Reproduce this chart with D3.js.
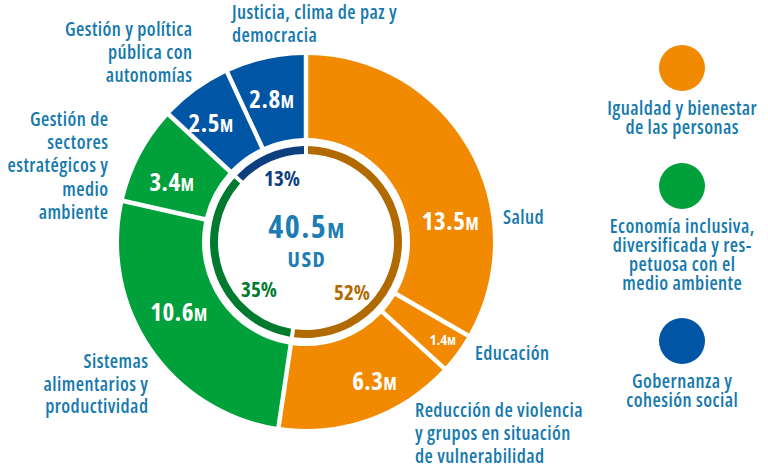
<!DOCTYPE html>
<html>
<head>
<meta charset="utf-8">
<script src="https://cdn.jsdelivr.net/npm/d3@7"></script>
<style>
  html, body { margin: 0; padding: 0; background: #ffffff; }
  svg { display: block; }
  text { font-family: "Open Sans", "Noto Sans", sans-serif; font-stretch: 75%; }
</style>
</head>
<body>
<svg id="chart" width="768" height="472"></svg>
<script>
// ---- Data ----
const categories = ["Salud", "Educación", "Reducción de violencia y grupos en situación de vulnerabilidad",
  "Sistemas alimentarios y productividad", "Gestión de sectores estratégicos y medio ambiente",
  "Gestión y política pública con autonomías", "Justicia, clima de paz y democracia"];
const values = [13.5, 1.4, 6.3, 10.6, 3.4, 2.5, 2.8];
const groupOf = [0, 0, 0, 1, 1, 2, 2];
const groups = ["Igualdad y bienestar de las personas",
  "Economía inclusiva, diversificada y respetuosa con el medio ambiente",
  "Gobernanza y cohesión social"];
const groupPercents = ["52%", "35%", "13%"];
const totalLabel = "40.5";
const unitLabel = "USD";

// label line breaks (text only)
const categoryLines = [
  ["Salud"], ["Educación"],
  ["Reducción de violencia", "y grupos en situación", "de vulnerabilidad"],
  ["Sistemas", "alimentarios y", "productividad"],
  ["Gestión de", "sectores", "estratégicos y", "medio", "ambiente"],
  ["Gestión y política", "pública con", "autonomías"],
  ["Justicia, clima de paz y", "democracia"]
];
const groupLines = [
  ["Igualdad y bienestar", "de las personas"],
  ["Economía inclusiva,", "diversificada y res-", "petuosa con el", "medio ambiente"],
  ["Gobernanza y", "cohesión social"]
];

// ---- Layout / style (not data) ----
const W = 768, H = 472;
const cx = 306, cy = 242;
const R_OUT = 187, R_IN = 104, R_RING_OUT = 96, R_RING_IN = 88;
const groupColors = ["#F18A00", "#00A13A", "#0055A5"];
const ringColors = ["#B06A00", "#007A2F", "#0B3F7E"];
const textColor = "#1579AD";
const LS = 0.45; // letter spacing for labels
// value label placement: [fraction along segment, radius]
const valueLabelPos = [[0.68, 146], [0.45, 168], [0.38, 155], [0.56, 145], [0.38, 147], [0.38, 152], [0.46, 147]];
const valueLabelSize = [[25, 17], [15, 11], [25, 17], [25, 17], [25, 17], [25, 17], [25, 17]];
// category label placement: [x, y of first baseline, anchor, line height]
const catLabelPos = [[503, 224, "start", 23], [475, 360, "start", 23], [415, 417, "start", 23],
  [148, 368, "end", 22.5], [108, 126, "end", 23.2], [192, 36, "end", 23], [232, 19, "start", 23]];
const pctLabelPos = [[352, 300], [259, 297], [282, 186]];
const legendX = 682, legendY = [68, 186, 341], legendR = 23, legendTextY = [115, 233, 388], legendLH = 19;

const svg = d3.select("#chart");
svg.append("rect").attr("width", W).attr("height", H).attr("fill", "#fff");
const g = svg.append("g").attr("transform", `translate(${cx},${cy})`);

const pie = d3.pie().sort(null).value(d => d)(values);
const arcOuter = d3.arc().innerRadius(R_IN).outerRadius(R_OUT).padAngle(0.045).padRadius(100);

g.selectAll("path.seg").data(pie).join("path")
  .attr("class", "seg")
  .attr("d", arcOuter)
  .attr("fill", (d, i) => groupColors[groupOf[i]]);

// group ring
const groupTotals = groups.map((_, k) => d3.sum(values.filter((v, i) => groupOf[i] === k)));
const gpie = d3.pie().sort(null).value(d => d)(groupTotals);
const arcRing = d3.arc().innerRadius(R_RING_IN).outerRadius(R_RING_OUT).padAngle(0.045).padRadius(90);
g.selectAll("path.ring").data(gpie).join("path")
  .attr("class", "ring")
  .attr("d", arcRing)
  .attr("fill", (d, i) => ringColors[i]);

// value labels
pie.forEach((d, i) => {
  const [f, r] = valueLabelPos[i];
  const a = d.startAngle + (d.endAngle - d.startAngle) * f;
  const x = r * Math.sin(a), y = -r * Math.cos(a);
  const [s1, s2] = valueLabelSize[i];
  const t = g.append("text").attr("x", x).attr("y", y + s1 * 0.36)
    .attr("text-anchor", "middle").attr("letter-spacing", s1 > 20 ? 0.5 : 0)
    .attr("fill", "#fff").attr("font-weight", 700);
  t.append("tspan").attr("font-size", s1).text(d3.format(".1f")(values[i]));
  t.append("tspan").attr("font-size", s2).text("M");
});

// percent labels
groupPercents.forEach((p, k) => {
  svg.append("text").attr("x", pctLabelPos[k][0]).attr("y", pctLabelPos[k][1])
    .attr("text-anchor", "middle").attr("font-weight", 700).attr("font-size", 21)
    .attr("fill", ringColors[k]).text(p);
});

// center
const ct = svg.append("text").attr("x", cx + 1).attr("y", 238).attr("text-anchor", "middle")
  .attr("font-weight", 700).attr("fill", "#1B7DB3").attr("letter-spacing", 1.5);
ct.append("tspan").attr("font-size", 32).text(totalLabel);
ct.append("tspan").attr("font-size", 22).text("M");
svg.append("text").attr("x", cx + 1).attr("y", 267).attr("text-anchor", "middle")
  .attr("letter-spacing", 1.5)
  .attr("font-weight", 700).attr("font-size", 22).attr("fill", "#1B7DB3").text(unitLabel);

// category labels
categoryLines.forEach((lines, i) => {
  const [x, y, anchor, lh] = catLabelPos[i];
  const t = svg.append("text").attr("text-anchor", anchor).attr("font-size", 19)
    .attr("letter-spacing", LS)
    .attr("font-weight", 600).attr("fill", textColor);
  lines.forEach((ln, j) => t.append("tspan").attr("x", anchor === "end" ? x + LS : x).attr("y", y + j * lh).text(ln));
});

// legend
groups.forEach((gname, k) => {
  svg.append("circle").attr("cx", legendX).attr("cy", legendY[k]).attr("r", legendR).attr("fill", groupColors[k]);
  const t = svg.append("text").attr("text-anchor", "middle").attr("font-size", 19)
    .attr("letter-spacing", LS)
    .attr("font-weight", 600).attr("fill", textColor);
  groupLines[k].forEach((ln, j) => t.append("tspan").attr("x", legendX + LS / 2).attr("y", legendTextY[k] + j * legendLH).text(ln));
});
</script>
</body>
</html>
